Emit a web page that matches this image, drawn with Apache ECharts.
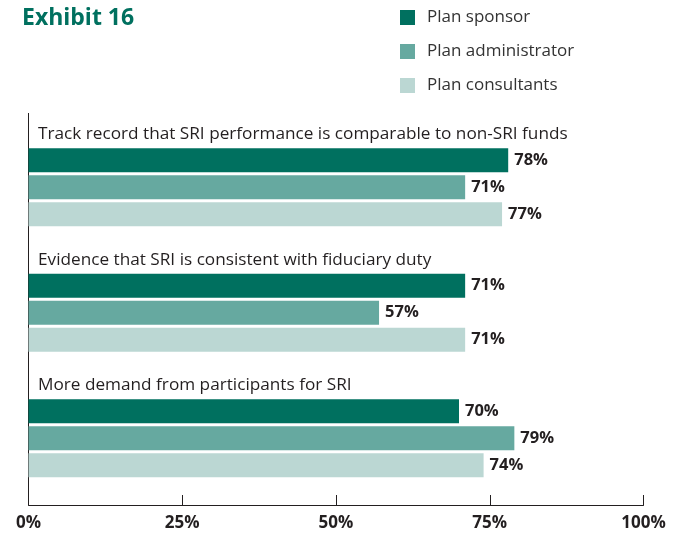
<!DOCTYPE html>
<html>
<head>
<meta charset="utf-8">
<style>
  html, body { margin: 0; padding: 0; background: #fff; }
  #chart { width: 678px; height: 533px; }
</style>
<script src="https://cdn.jsdelivr.net/npm/echarts@6/dist/echarts.min.js"></script>
</head>
<body>
<div id="chart"></div>
<script>
var categories = [
  'Track record that SRI performance is comparable to non-SRI funds',
  'Evidence that SRI is consistent with fiduciary duty',
  'More demand from participants for SRI'
];
var seriesNames = ['Plan sponsor', 'Plan administrator', 'Plan consultants'];
var sponsor = [78, 71, 70];
var administrator = [71, 57, 79];
var consultants = [77, 71, 74];
var xTicks = [0, 25, 50, 75, 100];

var font = 'Open Sans';
var ink = '#231f20';
var colors = ['#00705f', '#66a9a0', '#bbd7d3'];

var chart = echarts.init(document.getElementById('chart'), null, { renderer: 'canvas' });

function barSeries(name, data, color) {
  return {
    name: name,
    type: 'bar',
    data: data,
    barWidth: 24,
    barGap: '12.5%',
    itemStyle: { color: color },
    label: {
      show: true,
      position: 'right',
      distance: 6,
      formatter: '{c}%',
      color: ink,
      fontFamily: font,
      fontWeight: 'bold',
      fontSize: 16.5
    }
  };
}

chart.setOption({
  animation: false,
  color: colors,
  title: {
    text: 'Exhibit 16',
    left: 22,
    top: 7,
    padding: 0,
    textStyle: { color: '#00705f', fontFamily: font, fontWeight: 'bold', fontSize: 23 }
  },
  legend: {
    data: seriesNames,
    orient: 'vertical',
    left: 400,
    top: 9,
    padding: 0,
    icon: 'rect',
    itemWidth: 15,
    itemHeight: 15,
    itemGap: 17,
    textStyle: { color: '#333', fontFamily: font, fontSize: 17, padding: [0, 0, 0, 7] }
  },
  grid: { left: 28.5, right: 34.5, top: 124.5, bottom: 32 },
  xAxis: {
    type: 'value',
    min: 0,
    max: 100,
    interval: 25,
    offset: 4,
    axisLine: { show: true, lineStyle: { color: ink, width: 1 } },
    axisTick: { show: true, inside: true, length: 10, lineStyle: { color: ink } },
    splitLine: { show: false },
    axisLabel: {
      color: ink,
      fontFamily: font,
      fontWeight: 'bold',
      fontSize: 17,
      margin: 10,
      formatter: function (v) { return xTicks.indexOf(v) >= 0 ? v + '%' : ''; }
    }
  },
  yAxis: {
    type: 'category',
    inverse: true,
    data: categories,
    z: 5,
    axisLine: { show: false },
    axisTick: { show: false },
    axisLabel: {
      inside: true,
      margin: 9.5,
      verticalAlign: 'middle',
      formatter: function (v) { return '{t|' + v + '}\n{s|}'; },
      rich: {
        t: { color: ink, fontFamily: font, fontSize: 17.2, lineHeight: 20 },
        s: { lineHeight: 106 }
      }
    }
  },
  graphic: [{
    type: 'line',
    shape: { x1: 28.5, y1: 113, x2: 28.5, y2: 505 },
    style: { stroke: ink, lineWidth: 1 }
  }],
  series: [
    barSeries(seriesNames[0], sponsor, colors[0]),
    barSeries(seriesNames[1], administrator, colors[1]),
    barSeries(seriesNames[2], consultants, colors[2])
  ]
});

window.addEventListener('resize', function () { chart.resize(); });
</script>
</body>
</html>
